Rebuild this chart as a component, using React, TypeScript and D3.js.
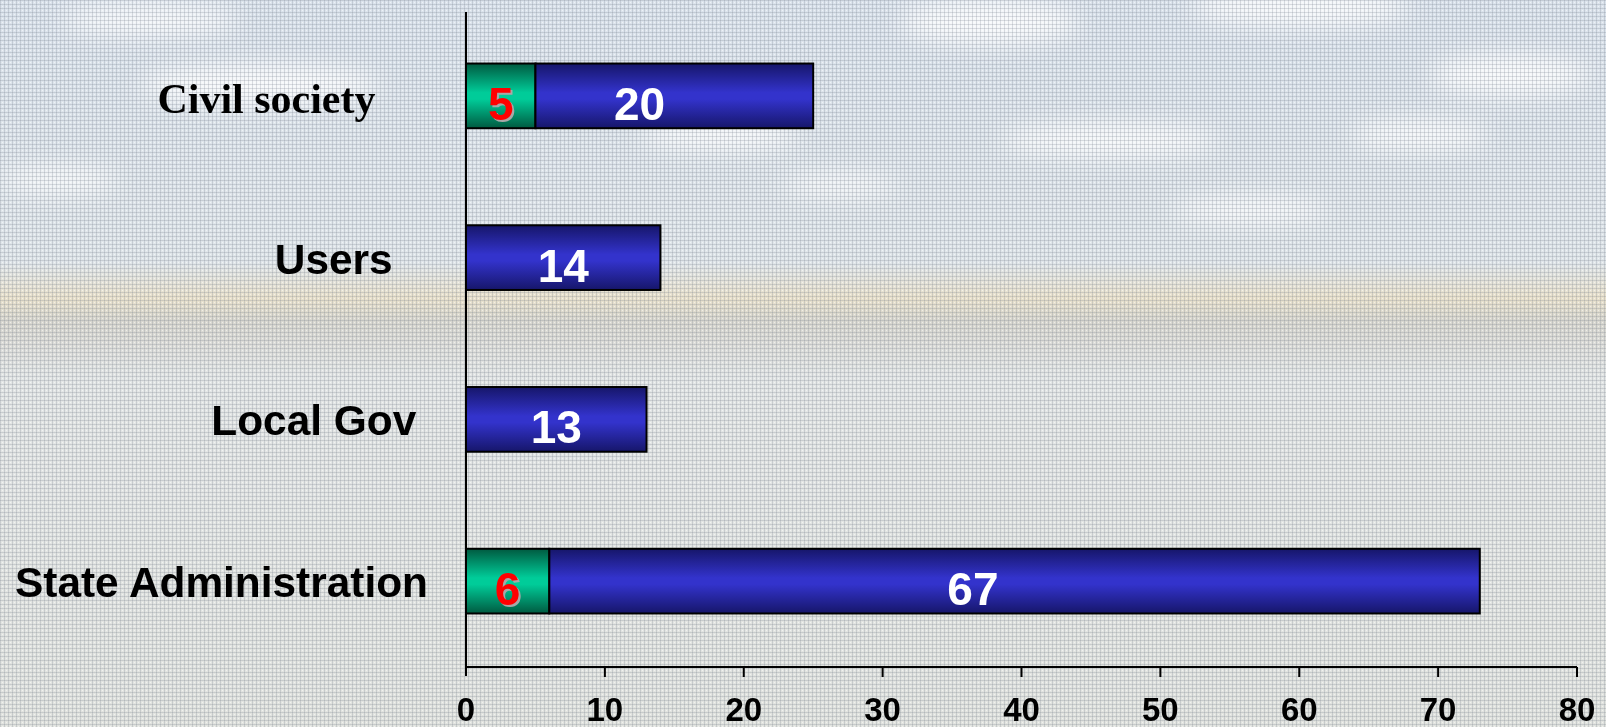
import React from "react";
import * as d3 from "d3";

const categories = ["Civil society", "Users", "Local Gov", "State Administration"];
const labelText = ["Civil society     ", "Users   ", "Local Gov ", "State Administration"];
const greenValues = [5, 0, 0, 6];
const blueValues = [20, 14, 13, 67];
const xTicks = [0, 10, 20, 30, 40, 50, 60, 70, 80];

const W = 1606;
const H = 727;

const clouds = [
  { cx: 990, cy: 22, rx: 90, ry: 22 },
  { cx: 1300, cy: 8, rx: 110, ry: 18 },
  { cx: 1510, cy: 75, rx: 80, ry: 20 },
  { cx: 260, cy: 85, rx: 120, ry: 20 },
  { cx: 720, cy: 135, rx: 80, ry: 14 },
  { cx: 1110, cy: 140, rx: 110, ry: 16 },
  { cx: 1420, cy: 135, rx: 70, ry: 14 },
  { cx: 60, cy: 180, rx: 60, ry: 12 },
  { cx: 840, cy: 185, rx: 60, ry: 10 },
  { cx: 1250, cy: 210, rx: 80, ry: 12 },
  { cx: 150, cy: 20, rx: 90, ry: 14 },
];

export default function App() {
  const x = d3.scaleLinear().domain([0, 80]).range([466, 1577]);
  const y = d3
    .scaleBand<string>()
    .domain(categories)
    .range([15, 662])
    .paddingInner(0.6)
    .paddingOuter(0.3);
  const axisY = 667;
  const bw = y.bandwidth();
  const sans = "'Liberation Sans', Arial, sans-serif";
  const serif = "'Liberation Serif', 'Times New Roman', serif";

  return (
    <svg
      width={W}
      height={H}
      style={{ position: "fixed", left: 0, top: 0, display: "block" }}
    >
      <defs>
        <linearGradient id="bg" x1="0" y1="0" x2="0" y2="1">
          <stop offset="0" stopColor="#dbe3ec" />
          <stop offset="0.36" stopColor="#e0e6ea" />
          <stop offset="0.41" stopColor="#e9e1cc" />
          <stop offset="0.44" stopColor="#d8d7cf" />
          <stop offset="0.47" stopColor="#dcdcd8" />
          <stop offset="0.52" stopColor="#e3e6e6" />
          <stop offset="1" stopColor="#e1e3df" />
        </linearGradient>
        <pattern id="tex" width="4" height="4" patternUnits="userSpaceOnUse">
          <rect x="0" y="0" width="4" height="1" fill="rgba(110,120,130,0.22)" />
          <rect x="0" y="0" width="1" height="4" fill="rgba(110,120,130,0.22)" />
          <rect x="2" y="2" width="1" height="1" fill="rgba(255,255,255,0.5)" />
        </pattern>
        <filter id="blur" x="-50%" y="-50%" width="200%" height="200%">
          <feGaussianBlur stdDeviation="12" />
        </filter>
        <linearGradient id="blueGrad" x1="0" y1="0" x2="0" y2="1">
          <stop offset="0" stopColor="#16166a" />
          <stop offset="0.45" stopColor="#3333cc" />
          <stop offset="0.55" stopColor="#3333cc" />
          <stop offset="1" stopColor="#16166a" />
        </linearGradient>
        <linearGradient id="greenGrad" x1="0" y1="0" x2="0" y2="1">
          <stop offset="0" stopColor="#005a40" />
          <stop offset="0.45" stopColor="#00cc99" />
          <stop offset="0.55" stopColor="#00cc99" />
          <stop offset="1" stopColor="#005a40" />
        </linearGradient>
      </defs>

      <rect x={0} y={0} width={W} height={H} fill="url(#bg)" />
      <g filter="url(#blur)">
        {clouds.map((c, i) => (
          <ellipse key={i} cx={c.cx} cy={c.cy} rx={c.rx} ry={c.ry} fill="#ffffff" opacity={0.8} />
        ))}
      </g>
      <rect x={0} y={0} width={W} height={H} fill="url(#tex)" />

      {/* bars */}
      {categories.map((c, i) => {
        const y0 = y(c)!;
        const g = greenValues[i];
        const b = blueValues[i];
        return (
          <g key={c}>
            {g > 0 && (
              <rect
                x={x(0)}
                y={y0}
                width={x(g) - x(0)}
                height={bw}
                fill="url(#greenGrad)"
                stroke="#000"
                strokeWidth={2}
              />
            )}
            <rect
              x={x(g)}
              y={y0}
              width={x(g + b) - x(g)}
              height={bw}
              fill="url(#blueGrad)"
              stroke="#000"
              strokeWidth={2}
            />
          </g>
        );
      })}

      {/* axes */}
      <line x1={x(0)} x2={x(0)} y1={12} y2={676} stroke="#000" strokeWidth={2} />
      <line x1={x(0)} x2={x(80)} y1={axisY} y2={axisY} stroke="#000" strokeWidth={2} />
      {xTicks.map((t) => (
        <g key={t}>
          {t > 0 && (
            <line x1={x(t)} x2={x(t)} y1={axisY} y2={axisY + 10} stroke="#000" strokeWidth={2} />
          )}
          <text
            x={x(t)}
            y={721}
            textAnchor="middle"
            fontFamily={sans}
            fontWeight="bold"
            fontSize={33}
            fill="#000"
          >
            {t}
          </text>
        </g>
      ))}

      {/* category labels */}
      {categories.map((c, i) => {
        const cy = y(c)! + bw / 2;
        const isSerif = c === "Civil society";
        return (
          <text
            key={c}
            x={428}
            y={cy + (isSerif ? 17 : 16)}
            textAnchor="end"
            fontFamily={isSerif ? serif : sans}
            fontWeight="bold"
            fontSize={isSerif ? 42 : 42.4}
            fill="#000"
            style={{ whiteSpace: "pre" }}
          >
            {labelText[i]}
          </text>
        );
      })}

      {/* value labels */}
      {categories.map((c, i) => {
        const cy = y(c)! + bw / 2;
        const g = greenValues[i];
        const b = blueValues[i];
        const gx = (x(0) + x(g)) / 2;
        const bx = (x(0) + x(g + b)) / 2;
        return (
          <g key={c} fontFamily={sans} fontWeight="bold" fontSize={46} textAnchor="middle">
            {g > 0 && (
              <>
                <text x={gx + 2} y={cy + 24 + 2} fill="#a8a8a8">
                  {g}
                </text>
                <text x={gx} y={cy + 24} fill="#ff0000">
                  {g}
                </text>
              </>
            )}
            <text x={bx} y={cy + 24} fill="#ffffff">
              {b}
            </text>
          </g>
        );
      })}
    </svg>
  );
}
